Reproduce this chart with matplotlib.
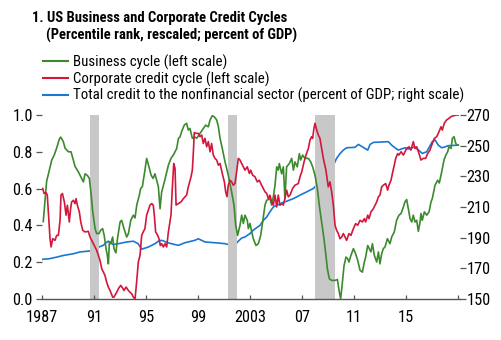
import matplotlib
matplotlib.use("Agg")
import matplotlib.pyplot as plt
from matplotlib.lines import Line2D
import numpy as np

# ---------------- data ----------------
business_years = [1987.12, 1987.38, 1987.52, 1987.77, 1987.95, 1988.15, 1988.36, 1988.46, 1988.66, 1988.79,
    1989.05, 1989.25, 1989.43, 1989.56, 1989.82, 1990.07, 1990.2, 1990.33, 1990.5, 1990.66,
    1990.79, 1990.92, 1991.1, 1991.22, 1991.4, 1991.53, 1991.68, 1991.8, 1991.94, 1992.04,
    1992.12, 1992.2, 1992.3, 1992.45, 1992.55, 1992.7, 1992.82, 1993.02, 1993.14, 1993.32,
    1993.53, 1993.66, 1993.84, 1994.04, 1994.17, 1994.3, 1994.5, 1994.6, 1994.73, 1994.93,
    1995.06, 1995.24, 1995.4, 1995.55, 1995.7, 1995.83, 1995.96, 1996.09, 1996.21, 1996.42,
    1996.6, 1996.73, 1996.93, 1997.11, 1997.37, 1997.5, 1997.62, 1997.75, 1997.95, 1998.13,
    1998.26, 1998.39, 1998.57, 1998.77, 1998.9, 1999.16, 1999.41, 1999.59, 1999.8, 1999.93,
    2000.1, 2000.26, 2000.44, 2000.57, 2000.7, 2000.87, 2001.08, 2001.33, 2001.59, 2001.77,
    2001.9, 2002.05, 2002.23, 2002.36, 2002.49, 2002.61, 2002.79, 2002.87, 2003.0, 2003.13,
    2003.25, 2003.46, 2003.64, 2003.82, 2003.97, 2004.15, 2004.28, 2004.53, 2004.66, 2004.79,
    2004.92, 2005.05, 2005.17, 2005.25, 2005.43, 2005.56, 2005.68, 2005.81, 2006.02, 2006.2,
    2006.33, 2006.45, 2006.63, 2006.79, 2006.89, 2007.04, 2007.22, 2007.48, 2007.66, 2007.81,
    2007.99, 2008.17, 2008.32, 2008.5, 2008.68, 2008.83, 2008.94, 2009.09, 2009.27, 2009.53,
    2009.71, 2009.86, 2009.96, 2010.06, 2010.22, 2010.37, 2010.5, 2010.6, 2010.75, 2010.94,
    2011.11, 2011.27, 2011.45, 2011.63, 2011.78, 2011.88, 2012.04, 2012.16, 2012.29, 2012.4,
    2012.55, 2012.73, 2012.86, 2012.98, 2013.11, 2013.24, 2013.37, 2013.55, 2013.75, 2013.88,
    2014.08, 2014.26, 2014.44, 2014.6, 2014.78, 2014.9, 2015.03, 2015.16, 2015.29, 2015.42,
    2015.54, 2015.67, 2015.8, 2015.93, 2016.06, 2016.13, 2016.23, 2016.39, 2016.57, 2016.75,
    2016.9, 2017.0, 2017.21, 2017.41, 2017.54, 2017.72, 2017.9, 2018.03, 2018.18, 2018.28,
    2018.44, 2018.54, 2018.67, 2018.8, 2018.92, 2019.0]
business_cycle = [0.42, 0.64, 0.68, 0.755, 0.78, 0.82, 0.87, 0.88, 0.855, 0.82,
    0.80, 0.80, 0.755, 0.72, 0.69, 0.655, 0.636, 0.68, 0.672, 0.655,
    0.573, 0.473, 0.382, 0.355, 0.355, 0.373, 0.382, 0.345, 0.273, 0.236,
    0.19, 0.31, 0.30, 0.336, 0.273, 0.25, 0.327, 0.418, 0.427, 0.382,
    0.336, 0.355, 0.427, 0.455, 0.44, 0.51, 0.564, 0.60, 0.61, 0.70,
    0.764, 0.718, 0.673, 0.655, 0.68, 0.645, 0.61, 0.49, 0.58, 0.636,
    0.69, 0.727, 0.764, 0.782, 0.818, 0.873, 0.88, 0.91, 0.945, 0.955,
    0.918, 0.927, 0.873, 0.88, 0.873, 0.90, 0.927, 0.945, 0.936, 0.973,
    0.996, 0.99, 0.973, 0.936, 0.873, 0.818, 0.745, 0.673, 0.58, 0.51,
    0.40, 0.345, 0.40, 0.455, 0.41, 0.455, 0.427, 0.382, 0.41, 0.364,
    0.327, 0.29, 0.30, 0.345, 0.418, 0.51, 0.536, 0.545, 0.51, 0.555,
    0.618, 0.718, 0.70, 0.736, 0.68, 0.718, 0.545, 0.718, 0.736, 0.764,
    0.70, 0.745, 0.718, 0.79, 0.755, 0.782, 0.764, 0.764, 0.745, 0.718,
    0.673, 0.60, 0.509, 0.418, 0.327, 0.236, 0.164, 0.109, 0.10, 0.10,
    0.105, 0.036, 0.0, 0.064, 0.18, 0.227, 0.218, 0.20, 0.236, 0.273,
    0.245, 0.209, 0.155, 0.145, 0.20, 0.227, 0.29, 0.273, 0.255, 0.30,
    0.236, 0.20, 0.255, 0.19, 0.245, 0.273, 0.282, 0.327, 0.30, 0.336,
    0.364, 0.427, 0.455, 0.464, 0.50, 0.527, 0.54, 0.49, 0.436, 0.418,
    0.455, 0.418, 0.427, 0.367, 0.418, 0.464, 0.427, 0.473, 0.455, 0.473,
    0.527, 0.545, 0.618, 0.645, 0.63, 0.69, 0.755, 0.78, 0.80, 0.827,
    0.818, 0.873, 0.882, 0.845, 0.836, 0.836]

credit_years = [1987.08, 1987.18, 1987.33, 1987.43, 1987.51, 1987.64, 1987.72, 1987.85, 1988.02, 1988.15,
    1988.28, 1988.41, 1988.48, 1988.59, 1988.74, 1988.87, 1988.97, 1989.05, 1989.12, 1989.22,
    1989.3, 1989.43, 1989.56, 1989.64, 1989.74, 1989.89, 1990.0, 1990.15, 1990.33, 1990.58,
    1990.71, 1990.84, 1990.97, 1991.22, 1991.35, 1991.48, 1991.61, 1991.74, 1991.86, 1991.99,
    1992.12, 1992.25, 1992.45, 1992.55, 1992.76, 1992.89, 1993.07, 1993.22, 1993.32, 1993.48,
    1993.66, 1993.79, 1993.91, 1994.04, 1994.17, 1994.29, 1994.42, 1994.55, 1994.68, 1994.8,
    1994.93, 1995.06, 1995.19, 1995.32, 1995.45, 1995.57, 1995.65, 1995.75, 1995.91, 1996.01,
    1996.11, 1996.21, 1996.34, 1996.47, 1996.6, 1996.73, 1996.81, 1996.93, 1997.03, 1997.14,
    1997.24, 1997.32, 1997.5, 1997.7, 1997.88, 1998.13, 1998.26, 1998.47, 1998.57, 1998.65,
    1998.72, 1998.82, 1999.03, 1999.16, 1999.29, 1999.41, 1999.54, 1999.67, 1999.8, 1999.93,
    2000.05, 2000.18, 2000.31, 2000.44, 2000.57, 2000.7, 2000.87, 2001.03, 2001.13, 2001.23,
    2001.33, 2001.46, 2001.59, 2001.72, 2001.84, 2001.97, 2002.1, 2002.23, 2002.36, 2002.49,
    2002.61, 2002.79, 2002.95, 2003.05, 2003.2, 2003.38, 2003.56, 2003.71, 2003.89, 2004.02,
    2004.15, 2004.28, 2004.41, 2004.53, 2004.66, 2004.79, 2004.92, 2005.05, 2005.17, 2005.3,
    2005.43, 2005.56, 2005.68, 2005.81, 2005.94, 2006.07, 2006.27, 2006.45, 2006.71, 2006.84,
    2006.97, 2007.15, 2007.3, 2007.48, 2007.61, 2007.73, 2007.81, 2007.91, 2007.99, 2008.12,
    2008.25, 2008.37, 2008.5, 2008.63, 2008.83, 2008.94, 2009.01, 2009.14, 2009.27, 2009.4,
    2009.53, 2009.65, 2009.78, 2009.91, 2010.04, 2010.17, 2010.3, 2010.42, 2010.6, 2010.75,
    2010.94, 2011.11, 2011.27, 2011.45, 2011.63, 2011.78, 2011.88, 2012.04, 2012.14, 2012.29,
    2012.47, 2012.6, 2012.73, 2012.86, 2012.98, 2013.11, 2013.24, 2013.42, 2013.57, 2013.67,
    2013.83, 2013.96, 2014.08, 2014.19, 2014.34, 2014.44, 2014.6, 2014.78, 2014.9, 2015.03,
    2015.21, 2015.36, 2015.54, 2015.67, 2015.8, 2015.98, 2016.13, 2016.31, 2016.49, 2016.64,
    2016.82, 2017.0, 2017.16, 2017.34, 2017.52, 2017.67, 2017.77, 2017.92, 2018.1, 2018.28,
    2018.44, 2018.62, 2018.87, 2019.0]
credit_cycle = [0.60, 0.573, 0.578, 0.564, 0.473, 0.327, 0.282, 0.327, 0.318, 0.345,
    0.345, 0.427, 0.564, 0.573, 0.527, 0.455, 0.509, 0.464, 0.418, 0.49,
    0.527, 0.536, 0.518, 0.545, 0.509, 0.473, 0.418, 0.373, 0.364, 0.367,
    0.336, 0.318, 0.30, 0.264, 0.236, 0.209, 0.164, 0.145, 0.127, 0.09,
    0.064, 0.045, 0.009, 0.009, 0.036, 0.055, 0.073, 0.058, 0.045, 0.064,
    0.045, 0.036, 0.027, 0.009, 0.0, 0.09, 0.20, 0.236, 0.345, 0.364,
    0.382, 0.455, 0.482, 0.51, 0.518, 0.509, 0.455, 0.364, 0.345, 0.327,
    0.29, 0.30, 0.282, 0.30, 0.282, 0.364, 0.40, 0.455, 0.60, 0.736,
    0.71, 0.51, 0.518, 0.527, 0.545, 0.564, 0.609, 0.664, 0.70, 0.80,
    0.905, 0.90, 0.90, 0.882, 0.891, 0.845, 0.873, 0.827, 0.855, 0.80,
    0.845, 0.782, 0.764, 0.755, 0.727, 0.736, 0.682, 0.636, 0.582, 0.555,
    0.618, 0.645, 0.636, 0.618, 0.627, 0.69, 0.764, 0.755, 0.736, 0.718,
    0.70, 0.718, 0.682, 0.70, 0.673, 0.664, 0.636, 0.645, 0.618, 0.60,
    0.582, 0.573, 0.545, 0.564, 0.527, 0.51, 0.564, 0.50, 0.564, 0.509,
    0.518, 0.51, 0.545, 0.591, 0.555, 0.564, 0.60, 0.618, 0.627, 0.664,
    0.69, 0.745, 0.782, 0.818, 0.864, 0.882, 0.873, 0.927, 0.955, 0.918,
    0.891, 0.873, 0.818, 0.764, 0.70, 0.645, 0.609, 0.636, 0.582, 0.509,
    0.40, 0.373, 0.355, 0.327, 0.336, 0.355, 0.336, 0.318, 0.355, 0.345,
    0.382, 0.409, 0.40, 0.427, 0.418, 0.436, 0.418, 0.455, 0.436, 0.473,
    0.49, 0.509, 0.527, 0.555, 0.564, 0.609, 0.618, 0.627, 0.591, 0.618,
    0.645, 0.69, 0.727, 0.764, 0.79, 0.782, 0.80, 0.782, 0.80, 0.818,
    0.827, 0.809, 0.855, 0.818, 0.827, 0.79, 0.755, 0.764, 0.764, 0.79,
    0.809, 0.845, 0.873, 0.882, 0.91, 0.936, 0.918, 0.955, 0.973, 0.982,
    0.991, 0.996, 1.0, 1.0]

total_years = [1987.08, 1987.6, 1988.15, 1988.66, 1989.43, 1989.94, 1990.71, 1990.97, 1991.22, 1991.48,
    1991.73, 1991.94, 1992.12, 1992.5, 1993.02, 1993.53, 1994.04, 1994.4, 1994.68, 1995.19,
    1995.7, 1995.96, 1996.21, 1996.73, 1997.24, 1997.5, 1998.0, 1998.77, 1999.03, 1999.54,
    2000.31, 2001.08, 2001.33, 2001.85, 2002.1, 2002.36, 2002.6, 2003.0, 2003.25, 2003.77,
    2004.02, 2004.28, 2004.53, 2004.79, 2005.05, 2005.56, 2005.81, 2006.33, 2006.84, 2007.35,
    2007.86, 2008.12, 2008.63, 2008.83, 2009.0, 2009.19, 2009.4, 2009.65, 2009.91, 2010.17,
    2010.42, 2011.06, 2011.32, 2011.83, 2012.04, 2012.22, 2012.47, 2013.62, 2013.88, 2014.14,
    2014.39, 2014.9, 2015.16, 2015.67, 2016.23, 2016.57, 2017.0, 2017.21, 2017.46, 2017.72,
    2017.98, 2018.23, 2019.0]
total_credit = [175.8, 176.2, 177.2, 178.3, 179.4, 180.6, 181.2, 182.0, 183.1, 184.1,
    184.9, 186.6, 187.6, 185.4, 186.2, 187.1, 187.6, 186.0, 182.4, 183.8,
    186.0, 187.6, 188.2, 186.5, 185.4, 184.9, 186.6, 188.2, 189.2, 187.1,
    186.6, 186.0, 185.4, 185.4, 187.6, 189.7, 190.3, 192.6, 194.8, 198.0,
    201.2, 203.4, 206.8, 210.0, 211.1, 212.9, 213.7, 215.4, 217.7, 219.8,
    222.0, 224.2, 229.7, 231.8, 230.8, 232.8, 237.2, 241.7, 244.8, 247.1,
    248.6, 248.9, 250.8, 248.2, 247.1, 250.8, 252.1, 252.6, 250.3, 248.6,
    247.1, 248.6, 247.8, 249.2, 244.9, 246.0, 252.6, 253.7, 250.3, 248.6,
    249.2, 250.0, 250.3]

recession_start = [1990.7, 2001.3, 2008.0]
recession_end = [1991.4, 2002.0, 2009.5]

x_ticks = [1987, 1991, 1995, 1999, 2003, 2007, 2011, 2015, 2019]
x_ticklabels = ["1987", "91", "95", "99", "2003", "07", "11", "15", ""]
left_ticks = [0.0, 0.2, 0.4, 0.6, 0.8, 1.0]
right_ticks = [150, 170, 190, 210, 230, 250, 270]

series_labels = ["Business cycle (left scale)",
                 "Corporate credit cycle (left scale)",
                 "Total credit to the nonfinancial sector (percent of GDP; right scale)"]
title_line1 = "1. US Business and Corporate Credit Cycles"
title_line2 = "(Percentile rank, rescaled; percent of GDP)"

# ---------------- style ----------------
GREEN = "#3c8a2e"
RED = "#d3173c"
BLUE = "#1a77d2"
SHADE = "#c8c8c8"
AXC = "#555555"
FONT = ["Roboto Condensed", "Archivo Narrow", "Liberation Sans", "DejaVu Sans"]
plt.rcParams["font.family"] = FONT

W, H = 502, 340
fig = plt.figure(figsize=(W / 100, H / 100), dpi=100)

def fx(px):
    return px / W

def fy(py):
    return 1 - py / H

ax_l, ax_r, ax_t, ax_b = 41.7, 459.5, 115.0, 298.8
ax = fig.add_axes([fx(ax_l), fy(ax_b), fx(ax_r - ax_l), (ax_b - ax_t) / H])
ax2 = ax.twinx()

ax.set_xlim(1987.0, 1987.0 + (ax_r - ax_l) / 13.02)
ax.set_ylim(0, 1)
ax2.set_ylim(150, 270)

for s, e in zip(recession_start, recession_end):
    ax.axvspan(s, e, color=SHADE, lw=0, zorder=0)

LW = 1.2
ax2.plot(total_years, total_credit, color=BLUE, lw=LW, zorder=3)
ax.plot(business_years, business_cycle, color=GREEN, lw=LW, zorder=3)
ax.plot(credit_years, credit_cycle, color=RED, lw=LW, zorder=4)
ax.set_zorder(ax2.get_zorder() + 1)
ax.patch.set_visible(False)

# axes styling
for a in (ax, ax2):
    for sp in ("top", "left", "right"):
        a.spines[sp].set_visible(False)
ax2.spines["bottom"].set_visible(False)
ax.spines["bottom"].set_color(AXC)
ax.spines["bottom"].set_linewidth(1.0)

ax.set_xticks(x_ticks)
ax.set_xticklabels(x_ticklabels)
ax.tick_params(axis="x", direction="in", length=3.0, width=0.9, color=AXC,
               pad=8.2, labelsize=11.7)
ax.set_yticks(left_ticks)
ax.set_yticklabels(["%.1f" % v for v in left_ticks])
ax.tick_params(axis="y", direction="out", length=4.3, width=0.9, color=AXC,
               pad=2.0, labelsize=11.7)
ax2.set_yticks(right_ticks)
ax2.tick_params(axis="y", direction="out", length=4.3, width=0.9, color=AXC,
                pad=0.6, labelsize=11.7)

# title
fig.text(fx(32), fy(21.7), title_line1, fontsize=10.5, fontweight="bold",
         va="baseline", ha="left")
fig.text(fx(46.3), fy(39.3), title_line2, fontsize=10.5, fontweight="bold",
         va="baseline", ha="left")

# legend
line_y = [61.0, 78.3, 95.0]
base_y = [66.7, 83.3, 100.0]
for col, lab, ly, by in zip([GREEN, RED, BLUE], series_labels, line_y, base_y):
    fig.add_artist(Line2D([fx(42.7), fx(67.7)], [fy(ly), fy(ly)], color=col, lw=1.5,
                          transform=fig.transFigure))
    fig.text(fx(73.3), fy(by), lab, fontsize=10.7, va="baseline", ha="left")

fig.savefig("out.png", dpi=100)
